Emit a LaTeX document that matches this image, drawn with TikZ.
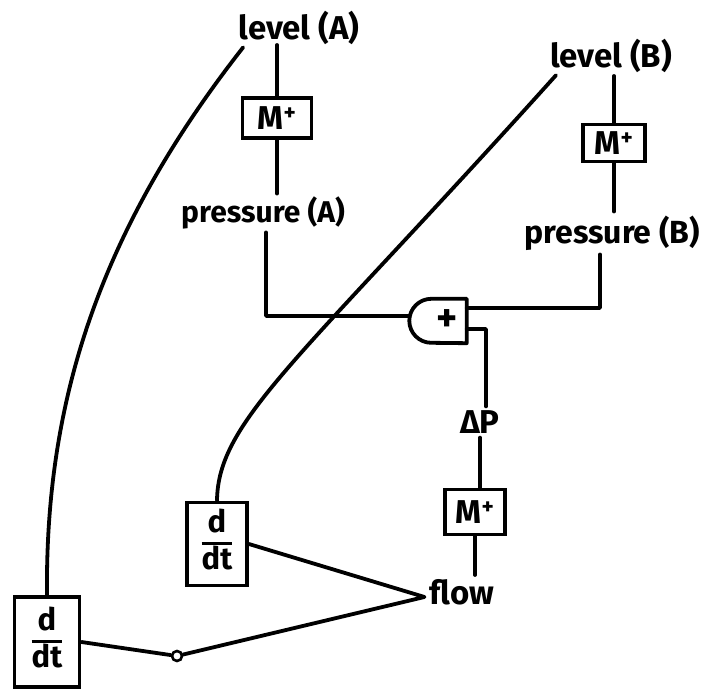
\documentclass[tikz,border=0pt]{standalone}
\usepackage{fontspec}
\setmainfont{Fira Sans}
\usetikzlibrary{calc}
\setlength{\arrayrulewidth}{3pt}
\begin{document}
\begin{tikzpicture}[x=1pt,y=-1pt,
  lbl/.style={inner sep=0pt, font=\fontsize{33}{35}\selectfont\bfseries},
  plbl/.style={inner sep=0pt, font=\fontsize{30}{32}\selectfont\bfseries},
  mbox/.style={draw, line width=3.8pt, inner sep=0pt, font=\fontsize{33}{35}\selectfont\bfseries},
  dbox/.style={draw, line width=3.8pt, inner sep=0pt, font=\fontsize{31}{33}\selectfont\bfseries},
  wire/.style={line width=3.8pt, line join=round, line cap=round}
]
\useasboundingbox (0,0) rectangle (705,692);

\node[lbl] (lA) at (299,28) {level (A)};
\node[lbl] (lB) at (611,56) {level (B)};
\node[mbox, minimum width=69pt, minimum height=40pt] (mA) at (277,118) {M\textsuperscript{+}};
\node[mbox, minimum width=62pt, minimum height=37pt] (mB) at (614,143) {M\textsuperscript{+}};
\node[plbl] (pA) at (263,213) {pressure (A)};
\node[plbl, font=\fontsize{32}{34}\selectfont\bfseries] (pB) at (612,233) {pressure (B)};
\node[minimum width=57pt, minimum height=44pt, inner sep=0pt] (g) at (438,321) {};
\node[inner sep=0pt, font=\fontsize{40}{42}\selectfont\bfseries] (gplus) at ([xshift=9pt]g.center) {+};
\node[lbl] (dP) at (480,422) {ΔP};
\node[mbox, minimum width=60pt, minimum height=45pt] (mC) at (475,512) {M\textsuperscript{+}};
\node[lbl] (fl) at (462,592) {flow};
\node[dbox, minimum width=60pt, minimum height=83pt] (d2) at (217,544) {\begin{tabular}{@{}c@{}}d\\\hline dt\end{tabular}};
\node[dbox, minimum width=65pt, minimum height=90pt] (d1) at (47,642) {\begin{tabular}{@{}c@{}}d\\\hline dt\end{tabular}};

% gate outline
\draw[line width=3.8pt, line join=round] (g.north east) -- ([xshift=22pt]g.north west)
  arc[start angle=90, end angle=270, radius=22pt] -- (g.south east) -- cycle;

% vertical wires
\draw[wire] (mA.north |- lA.south) -- (mA.north);
\draw[wire, shorten >=3pt] (mA.south) -- (mA.south |- pA.north);
\draw[wire, shorten <=3pt] (mB.north |- lB.south) -- (mB.north);
\draw[wire, shorten >=4pt] (mB.south) -- (mB.south |- pB.north);
\draw[wire, shorten <=3pt] ([xshift=3pt]pA.south) |- ([yshift=5pt]g.west);
\draw[wire, shorten >=4pt] ([yshift=13pt]g.east) -| ([xshift=-12pt]pB.south);
\draw[wire, shorten >=4pt] ([yshift=-8pt]g.east) -| ([xshift=6pt]dP.north);
\draw[wire, shorten <=4pt] (dP.south) -- (dP.south |- mC.north);
\draw[wire, shorten >=4pt] (mC.south) -- (mC.south |- fl.north);

% curves
\draw[wire, shorten <=3pt] ([xshift=-54pt]lA.south) .. controls (100,230) and (45,400) .. (d1.north);
\draw[wire, shorten <=3pt] ([xshift=-53pt]lB.south) .. controls (300,360) and (218,420) .. (d2.north);

% flow connections
\coordinate (fv) at ([shift={(-5pt,-5pt)}]fl.west);
\node[draw, circle, line width=2.6pt, fill=white, minimum size=10pt, inner sep=0pt] (c) at (177,656) {};
\draw[wire] (d2.east) -- (fv) -- (c);
\draw[wire] (c) -- (d1.east);
\end{tikzpicture}
\end{document}
